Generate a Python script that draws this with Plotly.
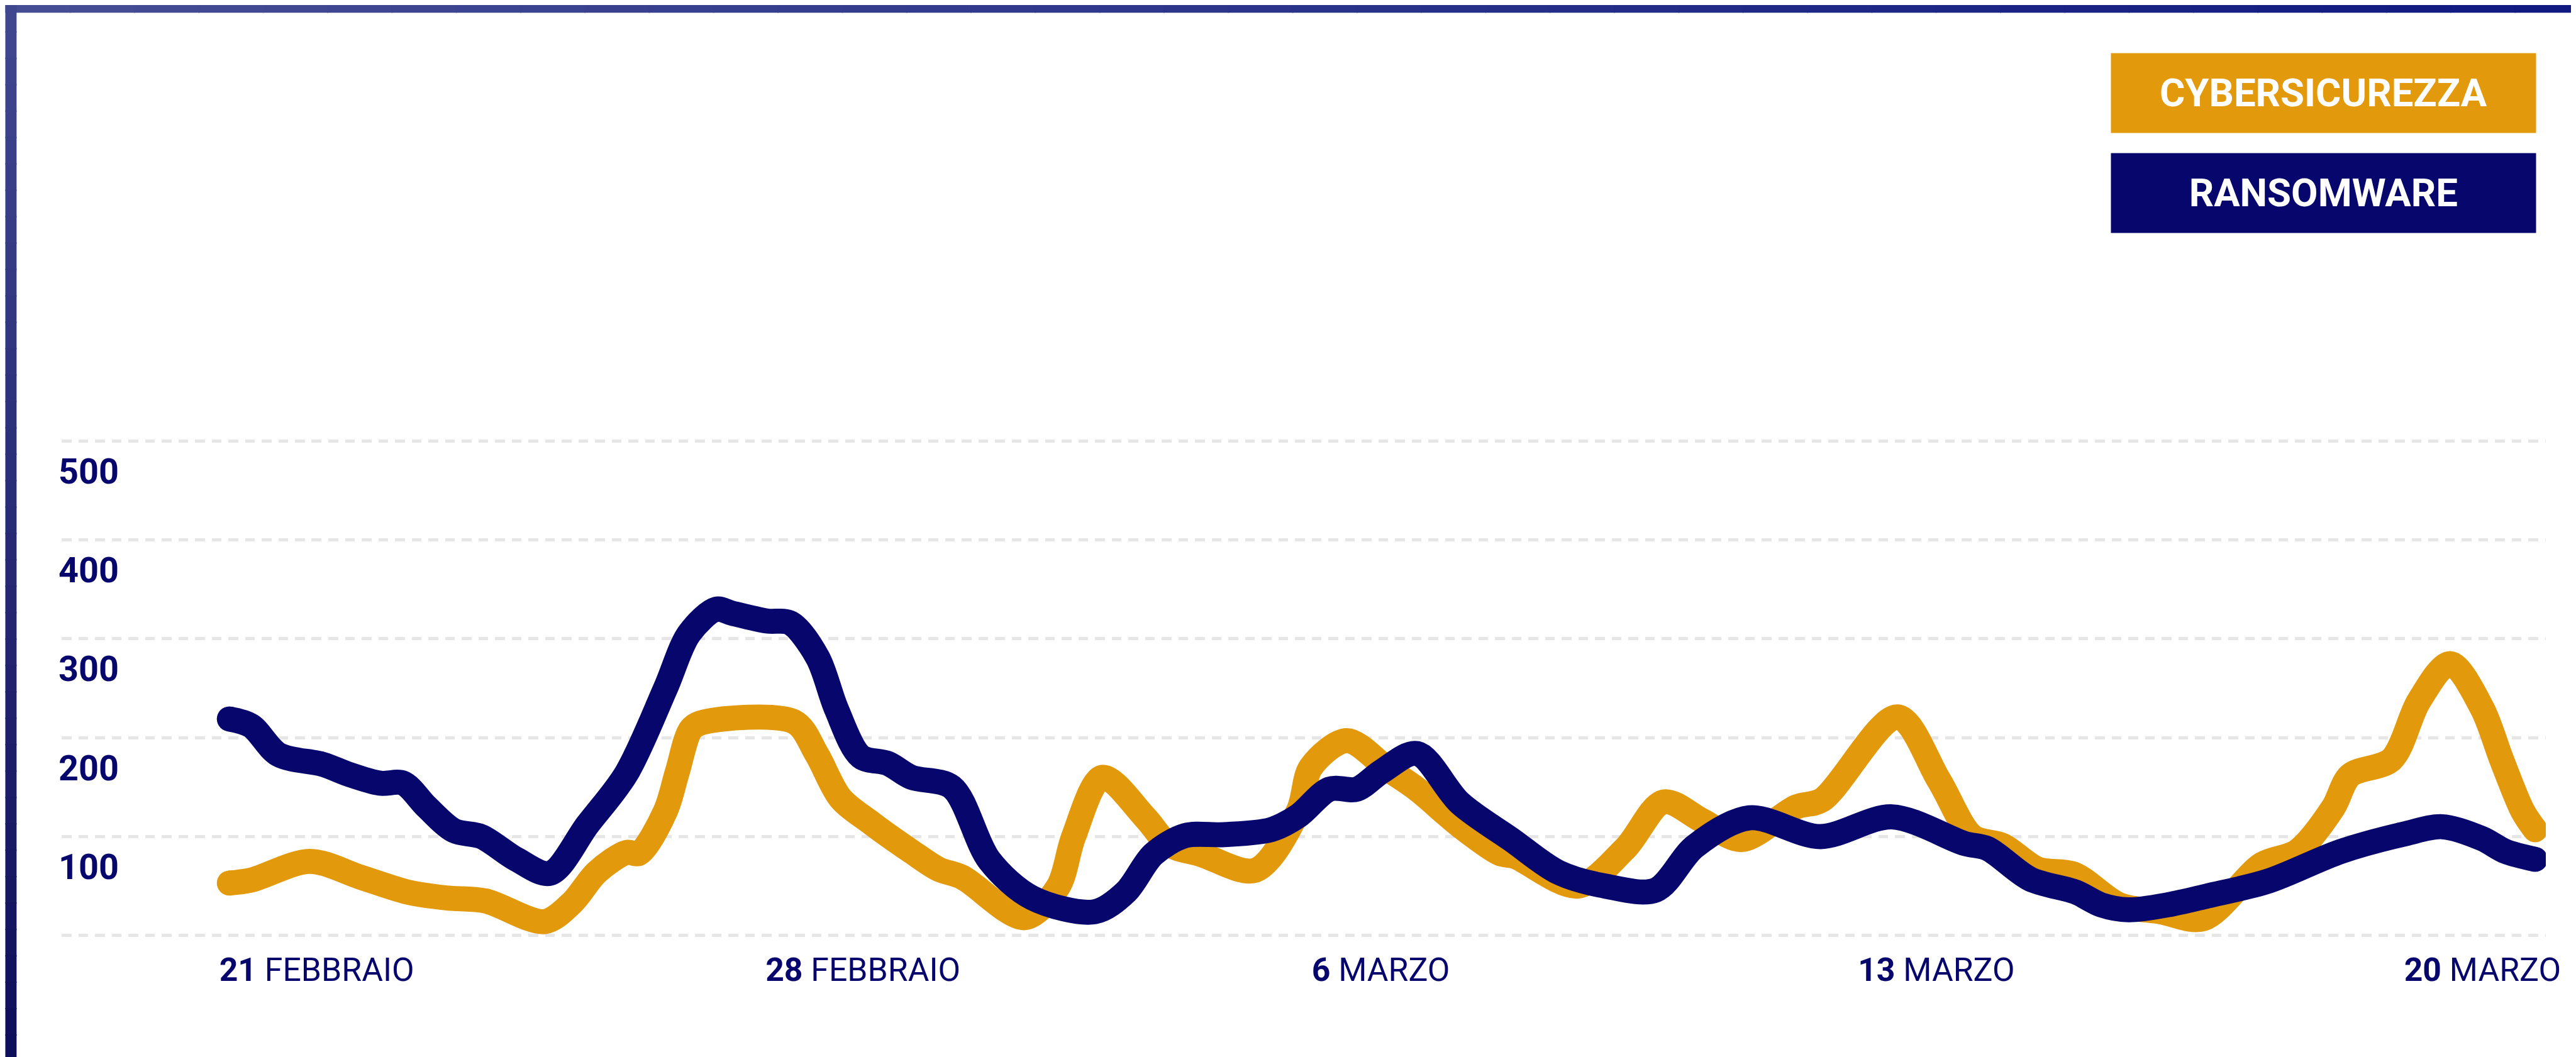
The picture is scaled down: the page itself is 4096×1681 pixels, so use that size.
import plotly.graph_objects as go

# ---------------- data ----------------
# x = days after 21 February (2024), y = value
day_cyber = [0.00, 0.28, 1.03, 1.68, 2.28, 2.78, 3.28, 4.04, 4.39, 4.71, 5.09, 5.25, 5.59, 5.74,
             5.92, 6.09, 7.24, 7.53, 7.83, 8.24, 8.74, 9.09, 9.39, 10.19, 10.62, 10.82, 11.19,
             11.74, 12.04, 12.45, 13.15, 13.70, 13.86, 14.32, 14.85, 15.22, 15.77, 16.28, 16.47,
             17.28, 17.89, 18.38, 18.88, 19.38, 20.08, 20.41, 21.38, 21.91, 22.34, 22.73, 23.18,
             23.64, 24.22, 24.75, 25.30, 26.05, 26.50, 26.96, 27.18, 27.71, 28.06, 28.46, 28.87,
             29.12, 29.39, 29.55]
cyber = [53, 56, 75, 59, 44, 38, 35, 14, 33, 64, 84, 83, 126, 165,
         209, 216, 216, 183, 139, 113, 85, 67, 59, 18, 49, 100, 160,
         119, 92, 82, 66, 126, 170, 197, 168, 148, 111, 83, 80,
         50, 88, 135, 116, 97, 130, 137, 221, 157, 100, 91, 67,
         62, 31, 24, 17, 72, 85, 129, 162, 178, 237, 275, 230,
         178, 126, 107]

day_ransom = [0.00, 0.28, 0.63, 1.20, 1.53, 1.93, 2.23, 2.53, 2.88, 3.23, 3.68, 4.11, 4.59, 5.09,
              5.59, 5.89, 6.24, 6.44, 6.89, 7.19, 7.54, 7.78, 8.09, 8.44, 8.74, 9.26, 9.74, 10.29,
              11.09, 11.49, 11.84, 12.25, 12.75, 13.35, 13.70, 14.10, 14.45, 14.77, 15.22,
              15.77, 16.43, 17.03, 17.63, 18.28, 18.78, 19.48, 20.39, 21.31, 22.24, 22.53,
              23.08, 23.66, 23.99, 24.34, 24.84, 25.35, 26.13, 27.06, 27.89, 28.36, 28.87,
              29.17, 29.55]
ransom = [219, 212, 183, 173, 163, 154, 154, 130, 106, 100, 77, 63, 112, 164,
          250, 305, 330, 326, 318, 316, 281, 229, 181, 174, 160, 150, 76, 38,
          24, 44, 82, 101, 102, 107, 121, 148, 148, 166, 184,
          134, 97, 64, 50, 46, 90, 119, 100, 120, 93, 88,
          57, 44, 31, 26, 31, 40, 55, 85, 103, 110, 98,
          85, 77]

series_names = ["CYBERSICUREZZA", "RANSOMWARE"]
tick_days = [0, 7, 14, 21, 28]
tick_day_num = ["21", "28", "6", "13", "20"]
tick_month = ["FEBBRAIO", "FEBBRAIO", "MARZO", "MARZO", "MARZO"]
y_ticks = [0, 100, 200, 300, 400, 500]
y_tick_labels = ["", "100", "200", "300", "400", "500"]

# ---------------- styling / geometry ----------------
S = 0.995
W, H = 4096, 1681
ORANGE = "#E2990B"
NAVY = "#06066C"
GRID = "#E6E6E6"
FONT = "Roboto, Liberation Sans, sans-serif"

# plot area in reference pixels
REF_L, REF_R, REF_T, REF_B = 90, 4060, 540, 1500
L, R, T, B = REF_L * S, REF_R * S, REF_T * S, REF_B * S

# reference scale: 21 Feb at x=358 px, 124.7 px per day; value 0 at y=1487.7, 1.5809 px per unit
X_RANGE = [(REF_L - 358) / 124.7, (REF_R - 358) / 124.7]
Y_RANGE = [(1487.7 - REF_B) / 1.5809, (1487.7 - REF_T) / 1.5809]


def px_x(X):
    return (X * S - L) / (R - L)


def px_y(Y):
    return (B - Y * S) / (B - T)


LW = 40 * S

fig = go.Figure()
for days, vals, col in [(day_cyber, cyber, ORANGE), (day_ransom, ransom, NAVY)]:
    fig.add_trace(go.Scatter(
        x=days, y=vals, mode="lines",
        line=dict(color=col, width=LW, shape="spline", smoothing=0.9),
        showlegend=False, hoverinfo="skip"))
    fig.add_trace(go.Scatter(
        x=[days[0], days[-1]], y=[vals[0], vals[-1]], mode="markers",
        marker=dict(color=col, size=LW, line=dict(width=0)),
        showlegend=False, hoverinfo="skip"))


def hexmix(c1, c2, t):
    a = [int(c1[i:i + 2], 16) for i in (1, 3, 5)]
    b = [int(c2[i:i + 2], 16) for i in (1, 3, 5)]
    return "#%02x%02x%02x" % tuple(round(a[k] + (b[k] - a[k]) * t) for k in range(3))


shapes = []
N = 40
# top bar gradient (left lighter -> right darker)
for i in range(N):
    x0 = 4113 * i / N
    x1 = 4113 * (i + 1) / N + 2
    shapes.append(dict(type="rect", xref="paper", yref="paper",
                       x0=px_x(x0), x1=px_x(x1), y0=px_y(0), y1=px_y(12.5),
                       fillcolor=hexmix("#454d94", "#101a80", i / (N - 1)),
                       line=dict(width=0), layer="above"))
# left bar gradient (top lighter -> bottom darker)
for i in range(N):
    y0 = 1688 * i / N
    y1 = 1688 * (i + 1) / N + 2
    shapes.append(dict(type="rect", xref="paper", yref="paper",
                       x0=px_x(0), x1=px_x(18), y0=px_y(y0), y1=px_y(y1),
                       fillcolor=hexmix("#41478f", "#0e0f58", i / (N - 1)),
                       line=dict(width=0), layer="above"))

annotations = []
for name, col, yc in [(series_names[0], ORANGE, 141), (series_names[1], NAVY, 301)]:
    annotations.append(dict(
        xref="paper", yref="paper", x=px_x(3705), y=px_y(yc),
        xanchor="center", yanchor="middle", showarrow=False,
        text="<b>%s</b>" % name, width=678 * S, height=127 * S, borderpad=0,
        bgcolor=col, align="center", valign="middle",
        font=dict(family=FONT, size=62 * S, color="white")))

fig.update_layout(
    width=W, height=H, autosize=False,
    margin=dict(l=L, r=W - R, t=T, b=H - B, pad=0),
    paper_bgcolor="white", plot_bgcolor="white",
    shapes=shapes, annotations=annotations,
    xaxis=dict(range=X_RANGE, showgrid=False, zeroline=False, showline=False,
               ticks="", tickvals=tick_days,
               ticktext=["<b>%s</b> %s" % (n, m) for n, m in zip(tick_day_num, tick_month)],
               ticklabelposition="outside right", ticklabelstandoff=7,
               ticklabelshift=-16, ticklabeloverflow="allow",
               tickfont=dict(family=FONT, size=52 * S, color=NAVY),
               automargin=False, fixedrange=True),
    yaxis=dict(range=Y_RANGE, showgrid=True, gridcolor=GRID, gridwidth=5 * S,
               griddash="%.1fpx,%.1fpx" % (16 * S, 10.7 * S),
               zeroline=False, showline=False, ticks="",
               tickvals=y_ticks, ticktext=y_tick_labels,
               ticklabelposition="inside", ticklabelshift=48, ticklabelstandoff=-8,
               ticklabeloverflow="allow",
               tickfont=dict(family=FONT, size=56 * S, color=NAVY, weight="bold"),
               automargin=False, fixedrange=True),
)

fig.write_html("out.html")
